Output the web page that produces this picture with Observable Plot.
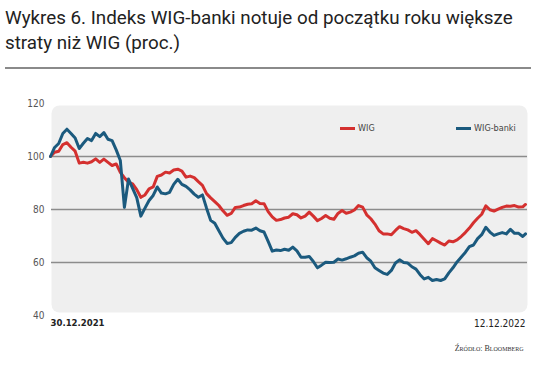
<!DOCTYPE html>
<html><head><meta charset="utf-8">
<script src="https://cdn.jsdelivr.net/npm/d3@7"></script>
<script src="https://cdn.jsdelivr.net/npm/@observablehq/plot@0.6"></script>
<style>
body{margin:0;background:#fff;width:536px;height:375px;overflow:hidden;position:relative;font-family:Roboto,sans-serif}
#title{position:absolute;left:5px;top:6px;font-size:18.8px;line-height:25px;color:#222;white-space:nowrap}
#rule{position:absolute;left:5px;width:526px;top:67px;height:2px;background:#8a8a8a}
#chart{position:absolute;left:0;top:75px}
.leg{position:absolute;top:123px;font-family:"DejaVu Sans Condensed","DejaVu Sans",sans-serif;font-stretch:condensed;font-size:9px;color:#444;display:flex;align-items:center}
.sw{display:inline-block;width:15px;height:3px;margin-right:3px}
</style></head>
<body>
<div id="title">Wykres 6. Indeks WIG-banki notuje od początku roku większe<br>straty niż WIG (proc.)</div>
<div id="rule"></div>
<div id="chart"></div>
<div class="leg" style="left:340px"><span class="sw" style="background:#d4302f"></span>WIG</div>
<div class="leg" style="left:456px"><span class="sw" style="background:#1b5a7e"></span>WIG-banki</div>
<script>
const dates = ["2021-12-30","2022-01-02","2022-01-05","2022-01-08","2022-01-11","2022-01-14","2022-01-17","2022-01-20","2022-01-23","2022-01-26","2022-01-29",
"2022-02-01","2022-02-04","2022-02-07","2022-02-10","2022-02-13","2022-02-16","2022-02-19","2022-02-22","2022-02-25","2022-02-28",
"2022-03-03","2022-03-06","2022-03-09","2022-03-12","2022-03-15","2022-03-18","2022-03-21","2022-03-24","2022-03-27","2022-03-30",
"2022-04-02","2022-04-05","2022-04-08","2022-04-11","2022-04-14","2022-04-17","2022-04-20","2022-04-23","2022-04-26","2022-04-29",
"2022-05-02","2022-05-05","2022-05-08","2022-05-11","2022-05-14","2022-05-17","2022-05-20","2022-05-23","2022-05-26","2022-05-29",
"2022-06-01","2022-06-04","2022-06-07","2022-06-10","2022-06-13","2022-06-16","2022-06-19","2022-06-22","2022-06-25","2022-06-28",
"2022-07-01","2022-07-04","2022-07-07","2022-07-10","2022-07-13","2022-07-16","2022-07-19","2022-07-22","2022-07-25","2022-07-28","2022-07-31",
"2022-08-03","2022-08-06","2022-08-09","2022-08-12","2022-08-15","2022-08-18","2022-08-21","2022-08-24","2022-08-27","2022-08-30",
"2022-09-02","2022-09-05","2022-09-08","2022-09-11","2022-09-14","2022-09-17","2022-09-20","2022-09-23","2022-09-26","2022-09-29",
"2022-10-02","2022-10-05","2022-10-08","2022-10-11","2022-10-14","2022-10-17","2022-10-20","2022-10-23","2022-10-26","2022-10-29",
"2022-11-01","2022-11-04","2022-11-07","2022-11-10","2022-11-13","2022-11-16","2022-11-19","2022-11-22","2022-11-25","2022-11-28",
"2022-12-01","2022-12-04","2022-12-07","2022-12-10","2022-12-12"];

const wig = [100,101.6,102,104.5,105.2,103.5,102,97.5,97.8,97.5,98,
99.1,97.8,99,97.8,96.6,97.2,94,92,90.3,89.7,
87.5,84.6,85.5,87.8,88.5,92.5,93,94.1,93.8,94.9,
95.2,94.5,92.2,92.6,92,90.5,89.1,86,84.4,83,
81.5,79.5,77.8,78.5,80.8,80.9,81.5,82,82.2,83.3,
82.3,82.2,79.2,77.2,75.9,76.2,76.8,77.1,78.4,78,
76.8,77.5,79,77.5,75.8,76.6,77.7,76.7,76.3,78.5,79.6,
78.6,79,79.8,81.5,80.9,78,76.5,74.5,72,70.8,
70.8,70.5,72.1,73.5,72.8,72.3,71.4,72,70.5,68.8,
67.1,69,68.2,67.3,66.6,68.1,67.8,68.5,69.8,71.3,
73,75,76.7,78.2,81.4,79.9,79.4,80.1,80.8,81.3,
81.2,81.5,80.9,81,81.9];

const wigBanki = [100,103.4,104.9,108.7,110.3,108.7,107,103,105,106.8,106,
108.7,107.5,109,106.5,106,102.5,98.5,80.8,91.5,88,
84.5,77.5,80.5,83.4,85.3,88.5,86.2,85.9,86.5,89.5,
91.4,89.5,88.7,87.4,85.8,84.6,85.5,80.5,75.9,74.8,
72,69.2,67.2,67.5,69.5,71,71.8,72.3,72.2,73,
72,71.5,68,64.3,64.7,64.5,65,64.6,65.8,64.4,
62,62,62.3,60.4,58,59,60.1,60,60.1,61.3,60.9,
61.4,62,62.5,63.5,63.9,61.8,60.5,58,57,56,
55.5,57,59.8,61,60,59.8,58.4,57.5,55.4,53.8,
54.4,53.2,53.6,53.2,53.8,56.1,58,60.2,62,63.8,
66,66.6,69,70.5,73.3,71.5,70.2,70.8,71.3,70.8,
72.5,71,71,69.8,70.8];

const yTicks = [40, 60, 80, 100, 120];
const gridValues = [60, 80, 100];
const xTickDates = ["2021-12-30", "2022-12-12"];
const xTickLabels = ["30.12.2021", "12.12.2022"];
const source = "Źródło: Bloomberg";

const parse = d3.utcParse("%Y-%m-%d");
const wigData = dates.map((d, i) => ({date: parse(d), value: wig[i]}));
const bankData = dates.map((d, i) => ({date: parse(d), value: wigBanki[i]}));
const xt = xTickDates.map((d, i) => ({date: parse(d), label: xTickLabels[i]}));
const cond = "'DejaVu Sans Condensed', 'DejaVu Sans', sans-serif";

const chart = Plot.plot({
  width: 536, height: 300,
  marginLeft: 50, marginRight: 11, marginTop: 28, marginBottom: 60,
  x: {type: "utc", domain: [parse(dates[0]), parse(dates[dates.length - 1])], axis: null},
  y: {domain: [40, 120]},
  style: {fontFamily: cond, fontSize: "10px", color: "#555", background: "transparent", fontStretch: "condensed"},
  marks: [
    Plot.frame({fill: "#efefef", stroke: null, rx: 8, insetTop: 2, insetBottom: 3, insetLeft: 1, insetRight: -2}),
    Plot.ruleY(gridValues, {stroke: "#8c8c8c", strokeWidth: 1.3, insetLeft: 1, insetRight: -2}),
    Plot.axisY(yTicks, {tickSize: 0, tickPadding: 6, label: null, fill: "#555"}),
    Plot.line(wigData, {x: "date", y: "value", stroke: "#d4302f", strokeWidth: 3}),
    Plot.line(bankData, {x: "date", y: "value", stroke: "#1b5a7e", strokeWidth: 3}),
    Plot.text([xt[0]], {x: "date", text: "label", frameAnchor: "bottom", dy: 10, textAnchor: "start", fontSize: 9.5, fontWeight: "bold", fill: "#222"}),
    Plot.text([xt[1]], {x: "date", text: "label", frameAnchor: "bottom", dy: 11, textAnchor: "end", fontSize: 10, fill: "#222"}),
    Plot.text([source], {text: d => d, frameAnchor: "bottom-right", dy: 35, dx: -2, fontSize: 8, fontFamily: "'Liberation Serif', serif", fontVariant: "small-caps", fill: "#333"})
  ]
});
document.getElementById("chart").append(chart);
</script>
</body></html>
